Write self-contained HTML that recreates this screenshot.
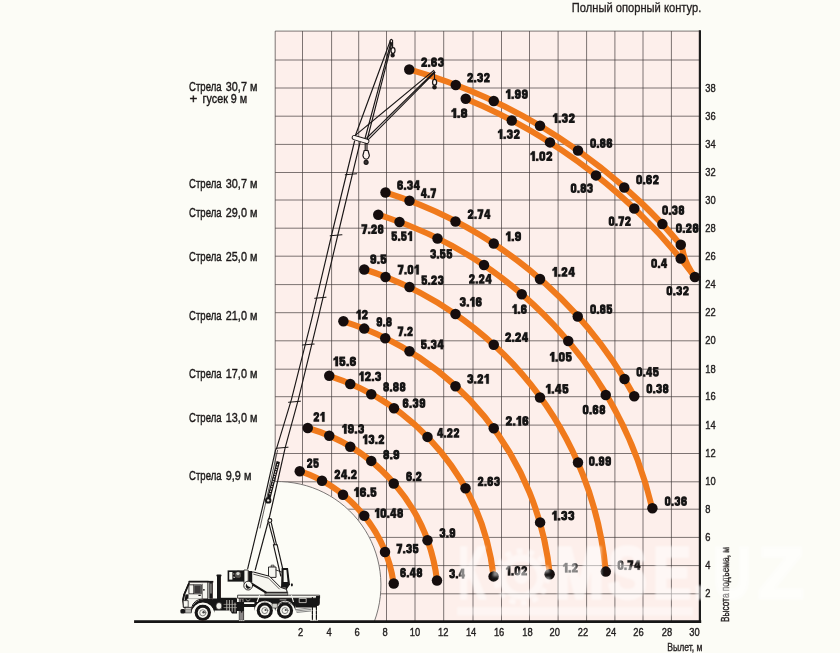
<!DOCTYPE html>
<html lang="ru"><head><meta charset="utf-8"><title>Грузовысотные характеристики</title>
<style>html,body{margin:0;padding:0;background:#fcfcf6;}body{width:840px;height:653px;overflow:hidden;font-family:"Liberation Sans",sans-serif;}svg{display:block;}text{font-family:"Liberation Sans",sans-serif;}</style>
</head><body>
<svg width="840" height="653" viewBox="0 0 840 653">
<defs><filter id="soft" x="0" y="0" width="840" height="653" filterUnits="userSpaceOnUse"><feGaussianBlur stdDeviation="0.45"/></filter></defs>
<rect x="0" y="0" width="840" height="653" fill="#fcfcf6"/>
<g filter="url(#soft)">
<rect x="275.2" y="31.1" width="424.7" height="590.5" fill="#fdefeb"/>
<path d="M275.2 31.1 V621.6 M302.5 31.1 V621.6 M331.6 31.1 V621.6 M358.7 31.1 V621.6 M386.5 31.1 V621.6 M415.0 31.1 V621.6 M443.7 31.1 V621.6 M473.0 31.1 V621.6 M501.5 31.1 V621.6 M529.5 31.1 V621.6 M558.1 31.1 V621.6 M586.6 31.1 V621.6 M614.9 31.1 V621.6 M643.0 31.1 V621.6 M671.4 31.1 V621.6 M275.2 31.1 H699.9 M275.2 60.0 H699.9 M275.2 88.0 H699.9 M275.2 116.2 H699.9 M275.2 144.4 H699.9 M275.2 172.5 H699.9 M275.2 200.0 H699.9 M275.2 228.2 H699.9 M275.2 256.2 H699.9 M275.2 284.6 H699.9 M275.2 312.7 H699.9 M275.2 340.8 H699.9 M275.2 369.2 H699.9 M275.2 396.7 H699.9 M275.2 425.1 H699.9 M275.2 453.5 H699.9 M275.2 481.8 H699.9 M275.2 509.2 H699.9 M275.2 537.4 H699.9 M275.2 565.6 H699.9 M275.2 593.8 H699.9" stroke="#3f3838" stroke-width="0.68" fill="none"/>
<path d="M274 481.4 L275.2 481.5 A103.5 103.5 0 0 1 374.5 622 L274 622 Z" fill="#fcfcf6"/>
<path d="M275.2 481.6 A103.5 103.5 0 0 1 374.5 621" stroke="#6b6565" stroke-width="0.9" fill="none"/>
<path d="M699.9 30.3 V622.8" stroke="#1c1a1a" stroke-width="2.2" fill="none"/>
<path d="M134.1 621.55 H701.2" stroke="#141212" stroke-width="2.8" fill="none"/>
<path d="M409.27 69.42 A555.85 555.85 0 0 1 680.75 244.85 C683.98 248.66 680.54 257.78 694.90 277.00" stroke="#f07a1c" stroke-width="6.1" fill="none" stroke-linecap="butt"/>
<path d="M465.74 98.78 A547.48 547.48 0 0 1 694.95 276.97" stroke="#f07a1c" stroke-width="6.1" fill="none" stroke-linecap="butt"/>
<path d="M385.50 192.49 A429.92 429.92 0 0 1 634.30 396.22" stroke="#f07a1c" stroke-width="6.1" fill="none" stroke-linecap="butt"/>
<path d="M378.28 214.66 A406.11 406.11 0 0 1 652.22 508.34" stroke="#f07a1c" stroke-width="6.1" fill="none" stroke-linecap="butt"/>
<path d="M364.33 269.26 A350.99 350.99 0 0 1 605.78 571.60" stroke="#f07a1c" stroke-width="6.1" fill="none" stroke-linecap="butt"/>
<path d="M343.37 321.36 A295.86 295.86 0 0 1 549.79 574.18" stroke="#f07a1c" stroke-width="6.1" fill="none" stroke-linecap="butt"/>
<path d="M329.19 375.93 A239.36 239.36 0 0 1 493.63 576.40" stroke="#f07a1c" stroke-width="6.1" fill="none" stroke-linecap="butt"/>
<path d="M307.75 427.99 A181.57 181.57 0 0 1 437.02 580.50" stroke="#f07a1c" stroke-width="6.1" fill="none" stroke-linecap="butt"/>
<path d="M299.77 471.20 A139.18 139.18 0 0 1 393.64 583.52" stroke="#f07a1c" stroke-width="6.1" fill="none" stroke-linecap="butt"/>
<circle cx="409.25" cy="69.50" r="5.25" fill="#141111"/>
<circle cx="455.75" cy="85.00" r="5.25" fill="#141111"/>
<circle cx="493.75" cy="101.00" r="5.25" fill="#141111"/>
<circle cx="540.00" cy="125.75" r="5.25" fill="#141111"/>
<circle cx="578.00" cy="150.50" r="5.25" fill="#141111"/>
<circle cx="624.25" cy="187.50" r="5.25" fill="#141111"/>
<circle cx="662.40" cy="224.10" r="5.25" fill="#141111"/>
<circle cx="680.80" cy="244.80" r="5.25" fill="#141111"/>
<circle cx="694.90" cy="277.00" r="5.25" fill="#141111"/>
<circle cx="465.75" cy="98.75" r="5.25" fill="#141111"/>
<circle cx="511.75" cy="120.50" r="5.25" fill="#141111"/>
<circle cx="550.00" cy="142.40" r="5.25" fill="#141111"/>
<circle cx="596.00" cy="175.40" r="5.25" fill="#141111"/>
<circle cx="634.30" cy="208.50" r="5.25" fill="#141111"/>
<circle cx="680.70" cy="258.60" r="5.25" fill="#141111"/>
<circle cx="385.50" cy="192.50" r="5.25" fill="#141111"/>
<circle cx="409.50" cy="200.75" r="5.25" fill="#141111"/>
<circle cx="455.50" cy="221.50" r="5.25" fill="#141111"/>
<circle cx="493.75" cy="243.50" r="5.25" fill="#141111"/>
<circle cx="540.00" cy="279.00" r="5.25" fill="#141111"/>
<circle cx="577.75" cy="316.50" r="5.25" fill="#141111"/>
<circle cx="624.50" cy="379.00" r="5.25" fill="#141111"/>
<circle cx="634.25" cy="396.25" r="5.25" fill="#141111"/>
<circle cx="378.25" cy="214.75" r="5.25" fill="#141111"/>
<circle cx="399.50" cy="222.00" r="5.25" fill="#141111"/>
<circle cx="437.50" cy="238.50" r="5.25" fill="#141111"/>
<circle cx="484.00" cy="265.00" r="5.25" fill="#141111"/>
<circle cx="521.75" cy="294.25" r="5.25" fill="#141111"/>
<circle cx="568.25" cy="341.00" r="5.25" fill="#141111"/>
<circle cx="605.75" cy="395.00" r="5.25" fill="#141111"/>
<circle cx="652.40" cy="508.30" r="5.25" fill="#141111"/>
<circle cx="364.25" cy="269.50" r="5.25" fill="#141111"/>
<circle cx="385.50" cy="277.00" r="5.25" fill="#141111"/>
<circle cx="409.50" cy="287.00" r="5.25" fill="#141111"/>
<circle cx="455.50" cy="314.00" r="5.25" fill="#141111"/>
<circle cx="493.75" cy="344.75" r="5.25" fill="#141111"/>
<circle cx="540.00" cy="397.50" r="5.25" fill="#141111"/>
<circle cx="578.00" cy="462.50" r="5.25" fill="#141111"/>
<circle cx="605.80" cy="571.60" r="5.25" fill="#141111"/>
<circle cx="343.40" cy="321.25" r="5.25" fill="#141111"/>
<circle cx="364.25" cy="328.60" r="5.25" fill="#141111"/>
<circle cx="385.25" cy="338.25" r="5.25" fill="#141111"/>
<circle cx="409.50" cy="351.25" r="5.25" fill="#141111"/>
<circle cx="455.50" cy="386.25" r="5.25" fill="#141111"/>
<circle cx="493.75" cy="428.25" r="5.25" fill="#141111"/>
<circle cx="540.10" cy="522.40" r="5.25" fill="#141111"/>
<circle cx="549.60" cy="574.20" r="5.25" fill="#141111"/>
<circle cx="329.25" cy="375.75" r="5.25" fill="#141111"/>
<circle cx="350.25" cy="384.00" r="5.25" fill="#141111"/>
<circle cx="371.25" cy="394.25" r="5.25" fill="#141111"/>
<circle cx="394.00" cy="408.25" r="5.25" fill="#141111"/>
<circle cx="427.50" cy="436.90" r="5.25" fill="#141111"/>
<circle cx="465.50" cy="488.20" r="5.25" fill="#141111"/>
<circle cx="493.60" cy="576.40" r="5.25" fill="#141111"/>
<circle cx="307.75" cy="428.00" r="5.25" fill="#141111"/>
<circle cx="329.25" cy="435.75" r="5.25" fill="#141111"/>
<circle cx="350.25" cy="446.75" r="5.25" fill="#141111"/>
<circle cx="371.25" cy="460.90" r="5.25" fill="#141111"/>
<circle cx="393.75" cy="483.50" r="5.25" fill="#141111"/>
<circle cx="427.50" cy="540.25" r="5.25" fill="#141111"/>
<circle cx="437.00" cy="580.50" r="5.25" fill="#141111"/>
<circle cx="299.75" cy="471.25" r="5.25" fill="#141111"/>
<circle cx="322.00" cy="480.75" r="5.25" fill="#141111"/>
<circle cx="343.00" cy="494.75" r="5.25" fill="#141111"/>
<circle cx="364.25" cy="515.75" r="5.25" fill="#141111"/>
<circle cx="385.00" cy="552.00" r="5.25" fill="#141111"/>
<circle cx="393.75" cy="583.50" r="5.25" fill="#141111"/>
<g id="crane" fill="none" stroke="#1a1717" stroke-width="1.15" stroke-linecap="round" stroke-linejoin="round">
<!-- jib 1 (steep) -->
<path d="M390.2 41 L355.2 136 M390.9 42.3 L365 138.5 M392.1 42.3 L367.2 139.5"/>
<path d="M390.1 40.6 Q391.3 38.2 392.6 40.6 L392.4 43 L390.4 42.6 Z" fill="#fdeeea"/>
<path d="M392.6 42.5 V47.8"/>
<ellipse cx="393" cy="50.5" rx="2" ry="2.8" fill="#fdf4f0" stroke-width="1.25"/>
<circle cx="392.6" cy="55.2" r="1.6" fill="#1a1717"/>
<!-- jib 2 (flat) -->
<path d="M433.8 70.4 L356.2 134.6 M434.4 71.7 L366.8 138 M435 72.4 L368.5 139.4"/>
<path d="M434.5 72 V79.6"/>
<ellipse cx="434.6" cy="82.3" rx="2.05" ry="2.9" fill="#fdf4f0" stroke-width="1.25"/>
<circle cx="434.5" cy="87.3" r="1.7" fill="#1a1717"/>
<!-- boom -->
<path d="M354.6 141 L332.8 230 L311.6 319.7 L291.4 399.7 L276.9 447.4 L275.5 450.2 L264.3 500 L247.7 568.6" />
<path d="M360.1 142.2 L339 230 L317.8 319.7 L298.3 399.7 L285.2 447.6 L273.4 500 L269.7 516 L255.2 570"/>
<path d="M277.6 450.2 L266.3 500 L260 528" stroke-width="0.7"/>
<!-- ticks -->
<path d="M345.3 174.8 L356.6 173.8 M330.2 235.8 L341.9 234.8 M314.8 298.2 L325.9 297.2 M302.4 345 L314.1 344 M288.6 402.2 L300.3 401.2 M276.2 448.2 L287.9 447.2"/>
<!-- head -->
<path d="M354.3 137.6 L366.8 141.3" stroke="#1a1717" stroke-width="5.2"/>
<path d="M354.3 137.6 L366.8 141.3" stroke="#fdf6f2" stroke-width="3.4"/>
<!-- main hook -->
<path d="M365.2 143.2 V150.5 M367 143.6 V150.5"/>
<path d="M364.2 150.5 H368 L369.4 155.5 Q369 158.5 366.2 159.3 Q363.2 158.5 362.9 155.5 Z" fill="#fdf4f0"/>
<circle cx="366.1" cy="162.3" r="2" fill="#3a3535"/>
<!-- black name band -->
<path d="M278.3 461.5 L268.3 500.2" stroke="#141212" stroke-width="3.4" stroke-linecap="butt"/>
<path d="M277.7 464 L269.6 495" stroke="#efe9e4" stroke-width="1.1" stroke-dasharray="1.4 1.1" stroke-linecap="butt"/>
<circle cx="268.2" cy="500.4" r="2.6" fill="#141212"/>
<circle cx="268.2" cy="500.4" r="1.2" fill="#e9e4df" stroke="none"/>
<!-- luffing cylinder -->
<circle cx="269.9" cy="520.6" r="1.9" fill="#fcfcf6"/>
<path d="M268.9 523.3 L274.6 544.7 M271.3 522.8 L276.5 544.7"/>
<path d="M273.4 544.7 L280.8 576 M277.1 544.7 L283.8 573.5 M273.4 544.7 H277.1"/>
</g>
<g id="truck" stroke-linejoin="round" stroke-linecap="round">
<!-- deck / chassis -->
<rect x="238" y="595.2" width="81.6" height="3" fill="#f6f6f0" stroke="#161313" stroke-width="0.8"/>
<rect x="244" y="598.2" width="75" height="4" fill="#161313"/>
<rect x="244" y="604" width="11" height="3" fill="#161313"/>
<rect x="295" y="602" width="22" height="5.5" fill="#161313"/>
<path d="M316 596 H319.8 V603 Q319.8 606 317 606 Z" fill="#161313"/>
<rect x="299.6" y="598.4" width="6.6" height="4.2" fill="none" stroke="#f4f4ee" stroke-width="0.7"/>
<path d="M259.4 595.6 L256.2 604.5 M291.6 595.6 L295.2 607.6" stroke="#f6f6f0" stroke-width="1.1" fill="none"/>
<path d="M246 599.6 l2 1.6 l2 -1.6 M280 599.8 h6" stroke="#f4f4ee" stroke-width="0.6" fill="none"/>
<!-- grey steps at rear -->
<path d="M296 609.6 L310.6 607.8 M296.4 611 L310.8 609.4 M297 612.4 L310.8 611" stroke="#777" stroke-width="0.9" fill="none"/>
<!-- rear outrigger -->
<path d="M312.4 597.6 V620 M316.4 597.6 V620" stroke="#161313" stroke-width="1.2" stroke-dasharray="3.2 1.2" fill="none"/>
<path d="M310.6 620.4 H318.4" stroke="#f2f2ec" stroke-width="0.8" stroke-dasharray="1 1"/>
<!-- front outrigger -->
<rect x="239.7" y="598.4" width="3.9" height="22" fill="#8a8686" stroke="#161313" stroke-width="0.7"/>
<path d="M241.6 600 V612" stroke="#161313" stroke-width="1.6"/>
<path d="M239.4 620.6 H244" stroke="#f2f2ec" stroke-width="0.8" stroke-dasharray="1 1"/>
<!-- engine block / mid chassis behind cab -->
<path d="M212.5 598.6 H237 V613.4 H232 L230 610.5 H214 L212 606 Z" fill="#161313"/>
<rect x="217.4" y="597.8" width="19.2" height="2.1" fill="#161313"/>
<ellipse cx="219" cy="606" rx="3.1" ry="3.5" fill="#f2f2ec" stroke="#161313" stroke-width="0.7"/>
<path d="M226.8 600.4 V610 M229.4 600.4 V611 M232.2 600.4 V611.4 M235 603 V612" stroke="#dcdcd6" stroke-width="0.8" fill="none"/>
<path d="M224 607.6 H238 M224 604.4 H236" stroke="#bdbdb7" stroke-width="0.6" fill="none"/>
<rect x="237" y="602" width="7" height="9" fill="#161313"/>
<!-- rear wheels -->
<path d="M254.4 611 A10.4 10.4 0 0 1 275.2 611 A10.2 10.2 0 0 1 295.4 611 L295.4 602 H254.4 Z" fill="#161313"/>
<g>
<circle cx="264.8" cy="610.6" r="8.1" fill="#161313"/>
<circle cx="264.8" cy="610.6" r="5" fill="#f6f6f0"/>
<circle cx="264.8" cy="610.6" r="3" fill="none" stroke="#555" stroke-width="0.7"/>
<circle cx="265.6" cy="610" r="1.1" fill="#444"/>
<circle cx="285" cy="610.6" r="8.1" fill="#161313"/>
<circle cx="285" cy="610.6" r="5" fill="#f6f6f0"/>
<circle cx="285" cy="610.6" r="3" fill="none" stroke="#555" stroke-width="0.7"/>
<circle cx="285.8" cy="610" r="1.1" fill="#444"/>
</g>
<path d="M256.6 606.4 A9.2 9.2 0 0 1 273.2 606.6 M276.8 606.4 A9.2 9.2 0 0 1 293.4 606.6" stroke="#f2f2ec" stroke-width="0.9" fill="none"/>
<rect x="272.4" y="603.4" width="5" height="4.6" fill="#cfcfc9" stroke="#161313" stroke-width="0.5"/>
<!-- cab -->
<path d="M189.8 581.6 H207.9 V599 H202.4 Q194 599.4 191.6 607.6 H183.8 L182.6 600.4 L183.6 595.4 Z" fill="#f6f6f0" stroke="#161313" stroke-width="1"/>
<path d="M189.2 581.7 H208.4" stroke="#161313" stroke-width="1.7" fill="none"/>
<path d="M188.9 583.6 L184.2 594.6 L183.2 599.8" stroke="#161313" stroke-width="1.8" fill="none"/>
<path d="M185.4 594.4 L188.6 594.2 L188.4 598.4 L184.6 601.4 Z" fill="#161313"/>
<rect x="189.3" y="584.8" width="12" height="9" fill="#f6f6f0" stroke="#161313" stroke-width="0.8"/>
<rect x="194.2" y="585.3" width="6.6" height="8" fill="#3a3838"/>
<path d="M193.6 585 V593.6" stroke="#161313" stroke-width="0.7"/>
<path d="M202.2 584.2 V598.6" stroke="#161313" stroke-width="0.7"/>
<circle cx="203.9" cy="589.8" r="0.9" fill="#161313"/>
<rect x="198.4" y="594.8" width="2.4" height="1.2" fill="#161313"/>
<path d="M187.8 598.6 H202" stroke="#8c8c88" stroke-width="0.6"/>
<!-- pillar behind cab -->
<rect x="209.3" y="581.8" width="3.5" height="17" fill="#161313"/>
<rect x="208.8" y="580.9" width="4.5" height="1.6" fill="#161313"/>
<rect x="210.3" y="583.5" width="1.3" height="10" fill="#9a9a96"/>
<!-- exhaust -->
<rect x="217" y="575.4" width="3.9" height="23.6" fill="#161313"/>
<rect x="216.4" y="574.5" width="5.1" height="2" rx="0.9" fill="#161313"/>
<!-- front lower / bumper / steps -->
<rect x="183.6" y="600.6" width="4.6" height="6.6" fill="#f6f6f0" stroke="#161313" stroke-width="0.7"/>
<rect x="180.4" y="609" width="4.8" height="4.6" rx="1.6" fill="#161313"/>
<rect x="185.4" y="607.4" width="6" height="5.4" fill="#f6f6f0" stroke="#161313" stroke-width="0.7"/>
<path d="M185.6 609.2 H191.2 M185.6 611 H191.2" stroke="#161313" stroke-width="0.6"/>
<!-- front fender + wheel -->
<path d="M191.4 612.6 A11.6 11.6 0 0 1 214.4 612.8 L214.6 606 L212.6 599 H204 Q194 600 191.4 609 Z" fill="#161313"/>
<circle cx="202.8" cy="612.6" r="8.2" fill="#161313"/>
<path d="M193.6 612 A9.3 9.3 0 0 1 212 612" stroke="#f2f2ec" stroke-width="0.9" fill="none"/>
<circle cx="202.8" cy="612.8" r="5.1" fill="#f6f6f0"/>
<circle cx="202.8" cy="612.8" r="3.1" fill="none" stroke="#555" stroke-width="0.7"/>
<circle cx="203.6" cy="612.2" r="1.2" fill="#444"/>
<!-- turntable -->
<rect x="265.3" y="592" width="22.4" height="3.4" fill="#8e8e8a" stroke="#161313" stroke-width="0.6"/>
<!-- operator cabin -->
<rect x="271.6" y="565.2" width="2.4" height="2" fill="#f6f6f0" stroke="#161313" stroke-width="0.7"/>
<rect x="268.9" y="567" width="7.1" height="10.4" fill="#f6f6f0" stroke="#161313" stroke-width="0.9"/>
<path d="M281.6 568 H288 L290 584.6 L286.6 589.6 H281 Z" fill="#161313"/>
<path d="M283.6 570 H286.4 L287.6 582 H283.6 Z" fill="#f6f6f0"/>
<rect x="281.2" y="587.2" width="4.8" height="4.2" fill="#f6f6f0" stroke="#161313" stroke-width="0.8"/>
<ellipse cx="291.9" cy="584.8" rx="1" ry="1.6" fill="#161313"/>
<path d="M276 570 L281.6 572" stroke="#161313" stroke-width="0.8"/>
<!-- boom foot frame -->
<path d="M252.1 572 L253.4 572 L269.4 576.2 L280.5 587.3 L286.6 589.4 L287.1 592.3 H265.8 L252.1 583.8 Z" fill="#f6f6f0" stroke="#161313" stroke-width="1"/>
<path d="M253.6 574.2 L268.6 578.2 L279.4 589" stroke="#161313" stroke-width="0.7" fill="none"/>
<path d="M252.1 584 L265.8 592.4" stroke="#161313" stroke-width="2.1" fill="none"/>
<!-- boom head resting at front -->
<rect x="227.6" y="570.4" width="16.4" height="11.2" fill="#161313"/>
<rect x="229.2" y="572" width="3.2" height="7.6" fill="#f6f6f0"/>
<rect x="233.4" y="573.4" width="2.4" height="1.2" fill="#f6f6f0"/>
<rect x="233.4" y="576.6" width="2.4" height="1.2" fill="#f6f6f0"/>
<circle cx="238" cy="574.8" r="3.7" fill="#55524f" stroke="#161313" stroke-width="0.9"/>
<circle cx="238" cy="573.6" r="1.7" fill="#d8d8d2"/>
<rect x="244.4" y="570" width="3.8" height="13.4" fill="#f6f6f0" stroke="#161313" stroke-width="0.8"/>
<rect x="248.4" y="571" width="3.6" height="13" fill="#161313"/>
<!-- hook block -->
<circle cx="248.2" cy="585.6" r="4.4" fill="#f6f6f0" stroke="#161313" stroke-width="0.9"/>
<path d="M246.6 583.6 Q247.4 587.6 251 586.8 Q249.6 589.6 246.8 588.4 Q244.8 586.6 246.6 583.6 Z" fill="#161313"/>
</g>

<defs>
<path id="g0" d="M1.2 3 Q1.2 1.2 3 1.2 Q4.8 1.2 4.8 3 V6.6 Q4.8 8.4 3 8.4 Q1.2 8.4 1.2 6.6 Z" fill="none" stroke="#161313" stroke-width="2.40" stroke-linejoin="round"/>
<path id="g1" d="M2.1 0 H4.6 V9.6 H2.1 V3.3 L0.3 3.9 V2 Q1.8 1.5 2.1 0 Z" fill="#161313" fill-rule="evenodd" stroke="#161313" stroke-width="0.25" stroke-linejoin="round"/>
<g id="g2"><path d="M1.2 3.6 V3 Q1.2 1.2 3 1.2 Q4.8 1.2 4.8 3 Q4.8 4.2 3.8 5.1 L2.1 7.4" fill="none" stroke="#161313" stroke-width="2.40" stroke-linejoin="round"/><path d="M0.1 9.6 V7.6 L1.2 6.2 L3.2 7.3 H5.9 V9.6 Z" fill="#161313"/></g>
<path id="g3" d="M1.2 3.3 V2.9 Q1.2 1.2 3 1.2 Q4.8 1.2 4.8 2.9 V3.2 Q4.8 4.7 3.3 4.7 H2.5 M3.3 4.7 Q4.8 4.7 4.8 6.2 V6.7 Q4.8 8.4 3 8.4 Q1.2 8.4 1.2 6.7 V6.2" fill="none" stroke="#161313" stroke-width="2.40" stroke-linejoin="round"/>
<path id="g4" d="M3.2 0 H5.5 V5.6 H6.2 V7.6 H5.5 V9.6 H3.2 V7.6 H0 V5.8 L2.7 0 Z M3.2 3 L2 5.6 H3.2 Z" fill="#161313" fill-rule="evenodd" stroke="#161313" stroke-width="0.25" stroke-linejoin="round"/>
<g id="g5"><path d="M1.3 1.5 V4.9 Q1.9 3.9 3.1 3.9 Q4.8 3.9 4.8 5.6 V6.6 Q4.8 8.4 3 8.4 Q1.2 8.4 1.2 6.7 V6.3" fill="none" stroke="#161313" stroke-width="2.40" stroke-linejoin="round"/><path d="M0.1 0 H5.6 V2.3 H0.1 Z" fill="#161313"/></g>
<path id="g6" d="M4.8 3.4 V3 Q4.8 1.2 3 1.2 Q1.2 1.2 1.2 3 V6.6 Q1.2 8.4 3 8.4 Q4.8 8.4 4.8 6.6 V6.2 Q4.8 4.5 3 4.5 Q1.9 4.5 1.3 5.3" fill="none" stroke="#161313" stroke-width="2.40" stroke-linejoin="round"/>
<path id="g7" d="M0.1 0 H5.9 V2 L3.6 9.6 H1 L3.2 2.3 H0.1 Z" fill="#161313" fill-rule="evenodd" stroke="#161313" stroke-width="0.25" stroke-linejoin="round"/>
<path id="g8" d="M3 1.2 Q4.7 1.2 4.7 2.8 V3.1 Q4.7 4.65 3 4.65 Q1.3 4.65 1.3 3.1 V2.8 Q1.3 1.2 3 1.2 Z M3 4.65 Q4.8 4.65 4.8 6.3 V6.7 Q4.8 8.4 3 8.4 Q1.2 8.4 1.2 6.7 V6.3 Q1.2 4.65 3 4.65 Z" fill="none" stroke="#161313" stroke-width="2.40" stroke-linejoin="round"/>
<use id="g9" href="#g6" transform="rotate(180 3 4.8)"/>
<path id="gdot" d="M0 7.3 H2.3 V9.6 H0 Z" fill="#161313" fill-rule="evenodd" stroke="#161313" stroke-width="0.25" stroke-linejoin="round"/>
</defs>
<g id="vals">
<g transform="translate(421.15 57.30) scale(1.000 1.000)"><use href="#g2" x="0.00"/><use href="#gdot" x="6.80"/><use href="#g6" x="9.90"/><use href="#g3" x="16.70"/></g>
<g transform="translate(467.15 72.80) scale(1.000 1.000)"><use href="#g2" x="0.00"/><use href="#gdot" x="6.80"/><use href="#g3" x="9.90"/><use href="#g2" x="16.70"/></g>
<g transform="translate(505.65 89.30) scale(1.028 1.000)"><use href="#g1" x="0.00"/><use href="#gdot" x="5.70"/><use href="#g9" x="8.80"/><use href="#g9" x="15.60"/></g>
<g transform="translate(552.65 113.30) scale(1.028 1.000)"><use href="#g1" x="0.00"/><use href="#gdot" x="5.70"/><use href="#g3" x="8.80"/><use href="#g2" x="15.60"/></g>
<g transform="translate(590.15 138.30) scale(0.978 1.000)"><use href="#g0" x="0.00"/><use href="#gdot" x="6.80"/><use href="#g8" x="9.90"/><use href="#g6" x="16.70"/></g>
<g transform="translate(636.15 174.80) scale(1.000 1.000)"><use href="#g0" x="0.00"/><use href="#gdot" x="6.80"/><use href="#g6" x="9.90"/><use href="#g2" x="16.70"/></g>
<g transform="translate(662.15 205.30) scale(0.978 1.000)"><use href="#g0" x="0.00"/><use href="#gdot" x="6.80"/><use href="#g3" x="9.90"/><use href="#g8" x="16.70"/></g>
<g transform="translate(675.90 223.30) scale(1.000 1.000)"><use href="#g0" x="0.00"/><use href="#gdot" x="6.80"/><use href="#g2" x="9.90"/><use href="#g8" x="16.70"/></g>
<g transform="translate(451.15 108.30) scale(1.095 1.000)"><use href="#g1" x="0.00"/><use href="#gdot" x="5.70"/><use href="#g8" x="8.80"/></g>
<g transform="translate(497.65 129.30) scale(1.028 1.000)"><use href="#g1" x="0.00"/><use href="#gdot" x="5.70"/><use href="#g3" x="8.80"/><use href="#g2" x="15.60"/></g>
<g transform="translate(530.15 151.30) scale(1.028 1.000)"><use href="#g1" x="0.00"/><use href="#gdot" x="5.70"/><use href="#g0" x="8.80"/><use href="#g2" x="15.60"/></g>
<g transform="translate(570.65 183.30) scale(0.978 1.000)"><use href="#g0" x="0.00"/><use href="#gdot" x="6.80"/><use href="#g8" x="9.90"/><use href="#g3" x="16.70"/></g>
<g transform="translate(608.65 216.30) scale(0.978 1.000)"><use href="#g0" x="0.00"/><use href="#gdot" x="6.80"/><use href="#g7" x="9.90"/><use href="#g2" x="16.70"/></g>
<g transform="translate(651.15 258.50) scale(0.988 1.000)"><use href="#g0" x="0.00"/><use href="#gdot" x="6.80"/><use href="#g4" x="9.90"/></g>
<g transform="translate(666.45 285.90) scale(0.987 1.000)"><use href="#g0" x="0.00"/><use href="#gdot" x="6.80"/><use href="#g3" x="9.90"/><use href="#g2" x="16.70"/></g>
<g transform="translate(397.15 180.30) scale(0.991 1.000)"><use href="#g6" x="0.00"/><use href="#gdot" x="6.80"/><use href="#g3" x="9.90"/><use href="#g4" x="16.70"/></g>
<g transform="translate(420.90 188.30) scale(0.944 1.000)"><use href="#g4" x="0.00"/><use href="#gdot" x="7.00"/><use href="#g7" x="10.10"/></g>
<g transform="translate(467.65 209.30) scale(0.991 1.000)"><use href="#g2" x="0.00"/><use href="#gdot" x="6.80"/><use href="#g7" x="9.90"/><use href="#g4" x="16.70"/></g>
<g transform="translate(505.65 231.55) scale(1.044 1.000)"><use href="#g1" x="0.00"/><use href="#gdot" x="5.70"/><use href="#g9" x="8.80"/></g>
<g transform="translate(552.15 267.05) scale(1.041 1.000)"><use href="#g1" x="0.00"/><use href="#gdot" x="5.70"/><use href="#g2" x="8.80"/><use href="#g4" x="15.60"/></g>
<g transform="translate(590.15 304.30) scale(0.978 1.000)"><use href="#g0" x="0.00"/><use href="#gdot" x="6.80"/><use href="#g8" x="9.90"/><use href="#g5" x="16.70"/></g>
<g transform="translate(636.40 367.05) scale(0.980 1.000)"><use href="#g0" x="0.00"/><use href="#gdot" x="6.80"/><use href="#g4" x="9.90"/><use href="#g5" x="16.90"/></g>
<g transform="translate(646.40 383.80) scale(0.978 1.000)"><use href="#g0" x="0.00"/><use href="#gdot" x="6.80"/><use href="#g3" x="9.90"/><use href="#g8" x="16.70"/></g>
<g transform="translate(361.40 224.30) scale(0.978 1.000)"><use href="#g7" x="0.00"/><use href="#gdot" x="6.80"/><use href="#g2" x="9.90"/><use href="#g8" x="16.70"/></g>
<g transform="translate(391.40 231.30) scale(0.970 1.000)"><use href="#g5" x="0.00"/><use href="#gdot" x="6.80"/><use href="#g5" x="9.90"/><use href="#g1" x="16.70"/></g>
<g transform="translate(430.15 249.05) scale(0.978 1.000)"><use href="#g3" x="0.00"/><use href="#gdot" x="6.80"/><use href="#g5" x="9.90"/><use href="#g5" x="16.70"/></g>
<g transform="translate(468.90 274.05) scale(0.991 1.000)"><use href="#g2" x="0.00"/><use href="#gdot" x="6.80"/><use href="#g2" x="9.90"/><use href="#g4" x="16.70"/></g>
<g transform="translate(512.15 304.30) scale(0.993 1.000)"><use href="#g1" x="0.00"/><use href="#gdot" x="5.70"/><use href="#g6" x="8.80"/></g>
<g transform="translate(549.65 352.05) scale(1.028 1.000)"><use href="#g1" x="0.00"/><use href="#gdot" x="5.70"/><use href="#g0" x="8.80"/><use href="#g5" x="15.60"/></g>
<g transform="translate(582.65 404.80) scale(1.000 1.000)"><use href="#g0" x="0.00"/><use href="#gdot" x="6.80"/><use href="#g6" x="9.90"/><use href="#g8" x="16.70"/></g>
<g transform="translate(664.75 496.30) scale(0.978 1.000)"><use href="#g0" x="0.00"/><use href="#gdot" x="6.80"/><use href="#g3" x="9.90"/><use href="#g6" x="16.70"/></g>
<g transform="translate(370.15 254.30) scale(1.035 1.000)"><use href="#g9" x="0.00"/><use href="#gdot" x="6.80"/><use href="#g5" x="9.90"/></g>
<g transform="translate(397.65 264.80) scale(0.993 1.000)"><use href="#g7" x="0.00"/><use href="#gdot" x="6.80"/><use href="#g0" x="9.90"/><use href="#g1" x="16.70"/></g>
<g transform="translate(421.40 275.30) scale(0.978 1.000)"><use href="#g5" x="0.00"/><use href="#gdot" x="6.80"/><use href="#g2" x="9.90"/><use href="#g3" x="16.70"/></g>
<g transform="translate(459.65 297.05) scale(1.028 1.000)"><use href="#g3" x="0.00"/><use href="#gdot" x="6.80"/><use href="#g1" x="9.90"/><use href="#g6" x="15.60"/></g>
<g transform="translate(505.15 332.30) scale(1.002 1.000)"><use href="#g2" x="0.00"/><use href="#gdot" x="6.80"/><use href="#g2" x="9.90"/><use href="#g4" x="16.70"/></g>
<g transform="translate(545.65 384.05) scale(1.053 1.000)"><use href="#g1" x="0.00"/><use href="#gdot" x="5.70"/><use href="#g4" x="8.80"/><use href="#g5" x="15.80"/></g>
<g transform="translate(588.90 456.30) scale(0.978 1.000)"><use href="#g0" x="0.00"/><use href="#gdot" x="6.80"/><use href="#g9" x="9.90"/><use href="#g9" x="16.70"/></g>
<g transform="translate(617.55 560.30) scale(0.996 1.000)"><use href="#g0" x="0.00"/><use href="#gdot" x="6.80"/><use href="#g7" x="9.90"/><use href="#g4" x="16.70"/></g>
<g transform="translate(356.15 309.80) scale(1.000 1.000)"><use href="#g1" x="0.00"/><use href="#g2" x="5.70"/></g>
<g transform="translate(376.40 317.05) scale(0.972 1.000)"><use href="#g9" x="0.00"/><use href="#gdot" x="6.80"/><use href="#g8" x="9.90"/></g>
<g transform="translate(397.65 326.55) scale(0.956 1.000)"><use href="#g7" x="0.00"/><use href="#gdot" x="6.80"/><use href="#g2" x="9.90"/></g>
<g transform="translate(420.90 339.55) scale(0.991 1.000)"><use href="#g5" x="0.00"/><use href="#gdot" x="6.80"/><use href="#g3" x="9.90"/><use href="#g4" x="16.70"/></g>
<g transform="translate(467.15 374.05) scale(1.016 1.000)"><use href="#g3" x="0.00"/><use href="#gdot" x="6.80"/><use href="#g2" x="9.90"/><use href="#g1" x="16.70"/></g>
<g transform="translate(505.65 416.05) scale(1.063 1.000)"><use href="#g2" x="0.00"/><use href="#gdot" x="6.80"/><use href="#g1" x="9.90"/><use href="#g6" x="15.60"/></g>
<g transform="translate(551.90 510.80) scale(1.039 1.000)"><use href="#g1" x="0.00"/><use href="#gdot" x="5.70"/><use href="#g3" x="8.80"/><use href="#g3" x="15.60"/></g>
<g transform="translate(562.90 562.90) scale(1.003 1.000)"><use href="#g1" x="0.00"/><use href="#gdot" x="5.70"/><use href="#g2" x="8.80"/></g>
<g transform="translate(333.15 356.55) scale(1.063 1.000)"><use href="#g1" x="0.00"/><use href="#g5" x="5.70"/><use href="#gdot" x="12.50"/><use href="#g6" x="15.60"/></g>
<g transform="translate(358.90 371.55) scale(1.028 1.000)"><use href="#g1" x="0.00"/><use href="#g2" x="5.70"/><use href="#gdot" x="12.50"/><use href="#g3" x="15.60"/></g>
<g transform="translate(383.15 382.05) scale(0.989 1.000)"><use href="#g8" x="0.00"/><use href="#gdot" x="6.80"/><use href="#g8" x="9.90"/><use href="#g8" x="16.70"/></g>
<g transform="translate(402.65 398.30) scale(1.000 1.000)"><use href="#g6" x="0.00"/><use href="#gdot" x="6.80"/><use href="#g3" x="9.90"/><use href="#g9" x="16.70"/></g>
<g transform="translate(437.15 428.05) scale(0.969 1.000)"><use href="#g4" x="0.00"/><use href="#gdot" x="7.00"/><use href="#g2" x="10.10"/><use href="#g2" x="16.90"/></g>
<g transform="translate(477.65 476.55) scale(0.978 1.000)"><use href="#g2" x="0.00"/><use href="#gdot" x="6.80"/><use href="#g6" x="9.90"/><use href="#g3" x="16.70"/></g>
<g transform="translate(505.75 565.90) scale(0.991 1.000)"><use href="#g1" x="0.00"/><use href="#gdot" x="5.70"/><use href="#g0" x="8.80"/><use href="#g2" x="15.60"/></g>
<g transform="translate(313.40 412.05) scale(0.979 1.000)"><use href="#g2" x="0.00"/><use href="#g1" x="6.80"/></g>
<g transform="translate(341.90 424.05) scale(1.028 1.000)"><use href="#g1" x="0.00"/><use href="#g9" x="5.70"/><use href="#gdot" x="12.50"/><use href="#g3" x="15.60"/></g>
<g transform="translate(362.65 434.55) scale(1.005 1.000)"><use href="#g1" x="0.00"/><use href="#g3" x="5.70"/><use href="#gdot" x="12.50"/><use href="#g2" x="15.60"/></g>
<g transform="translate(383.15 449.80) scale(1.019 1.000)"><use href="#g8" x="0.00"/><use href="#gdot" x="6.80"/><use href="#g9" x="9.90"/></g>
<g transform="translate(406.15 471.55) scale(0.972 1.000)"><use href="#g6" x="0.00"/><use href="#gdot" x="6.80"/><use href="#g2" x="9.90"/></g>
<g transform="translate(439.40 528.05) scale(1.003 1.000)"><use href="#g3" x="0.00"/><use href="#gdot" x="6.80"/><use href="#g9" x="9.90"/></g>
<g transform="translate(449.15 568.80) scale(0.975 1.000)"><use href="#g3" x="0.00"/><use href="#gdot" x="6.80"/><use href="#g4" x="9.90"/></g>
<g transform="translate(306.90 458.30) scale(0.934 1.000)"><use href="#g2" x="0.00"/><use href="#g5" x="6.80"/></g>
<g transform="translate(334.40 469.55) scale(0.980 1.000)"><use href="#g2" x="0.00"/><use href="#g4" x="6.80"/><use href="#gdot" x="13.80"/><use href="#g2" x="16.90"/></g>
<g transform="translate(353.90 487.30) scale(1.051 1.000)"><use href="#g1" x="0.00"/><use href="#g6" x="5.70"/><use href="#gdot" x="12.50"/><use href="#g5" x="15.60"/></g>
<g transform="translate(374.65 508.30) scale(0.995 1.000)"><use href="#g1" x="0.00"/><use href="#g0" x="5.70"/><use href="#gdot" x="12.50"/><use href="#g4" x="15.60"/><use href="#g8" x="22.60"/></g>
<g transform="translate(396.40 543.80) scale(0.978 1.000)"><use href="#g7" x="0.00"/><use href="#gdot" x="6.80"/><use href="#g3" x="9.90"/><use href="#g5" x="16.70"/></g>
<g transform="translate(400.15 567.80) scale(0.969 1.000)"><use href="#g6" x="0.00"/><use href="#gdot" x="6.80"/><use href="#g4" x="9.90"/><use href="#g8" x="16.90"/></g>
</g>
<g font-size="11.6" fill="#211e1e" stroke="#211e1e" stroke-width="0.4">
<text x="298.00" y="636" textLength="5.20" lengthAdjust="spacingAndGlyphs">2</text>
<text x="326.40" y="636" textLength="5.20" lengthAdjust="spacingAndGlyphs">4</text>
<text x="354.40" y="636" textLength="5.20" lengthAdjust="spacingAndGlyphs">6</text>
<text x="382.40" y="636" textLength="5.20" lengthAdjust="spacingAndGlyphs">8</text>
<text x="409.80" y="636" textLength="10.40" lengthAdjust="spacingAndGlyphs">10</text>
<text x="438.00" y="636" textLength="10.40" lengthAdjust="spacingAndGlyphs">12</text>
<text x="465.90" y="636" textLength="10.40" lengthAdjust="spacingAndGlyphs">14</text>
<text x="493.90" y="636" textLength="10.40" lengthAdjust="spacingAndGlyphs">16</text>
<text x="522.20" y="636" textLength="10.40" lengthAdjust="spacingAndGlyphs">18</text>
<text x="549.50" y="636" textLength="10.40" lengthAdjust="spacingAndGlyphs">20</text>
<text x="577.80" y="636" textLength="10.40" lengthAdjust="spacingAndGlyphs">22</text>
<text x="605.80" y="636" textLength="10.40" lengthAdjust="spacingAndGlyphs">24</text>
<text x="633.30" y="636" textLength="10.40" lengthAdjust="spacingAndGlyphs">26</text>
<text x="661.70" y="636" textLength="10.40" lengthAdjust="spacingAndGlyphs">28</text>
<text x="689.20" y="636" textLength="10.40" lengthAdjust="spacingAndGlyphs">30</text>
<text x="705.2" y="597.40" textLength="5.20" lengthAdjust="spacingAndGlyphs">2</text>
<text x="705.2" y="569.20" textLength="5.20" lengthAdjust="spacingAndGlyphs">4</text>
<text x="705.2" y="541.00" textLength="5.20" lengthAdjust="spacingAndGlyphs">6</text>
<text x="705.2" y="512.80" textLength="5.20" lengthAdjust="spacingAndGlyphs">8</text>
<text x="705.2" y="485.40" textLength="10.40" lengthAdjust="spacingAndGlyphs">10</text>
<text x="705.2" y="457.10" textLength="10.40" lengthAdjust="spacingAndGlyphs">12</text>
<text x="705.2" y="428.70" textLength="10.40" lengthAdjust="spacingAndGlyphs">14</text>
<text x="705.2" y="400.30" textLength="10.40" lengthAdjust="spacingAndGlyphs">16</text>
<text x="705.2" y="372.80" textLength="10.40" lengthAdjust="spacingAndGlyphs">18</text>
<text x="705.2" y="344.40" textLength="10.40" lengthAdjust="spacingAndGlyphs">20</text>
<text x="705.2" y="316.30" textLength="10.40" lengthAdjust="spacingAndGlyphs">22</text>
<text x="705.2" y="288.20" textLength="10.40" lengthAdjust="spacingAndGlyphs">24</text>
<text x="705.2" y="259.80" textLength="10.40" lengthAdjust="spacingAndGlyphs">26</text>
<text x="705.2" y="231.80" textLength="10.40" lengthAdjust="spacingAndGlyphs">28</text>
<text x="705.2" y="203.60" textLength="10.40" lengthAdjust="spacingAndGlyphs">30</text>
<text x="705.2" y="176.10" textLength="10.40" lengthAdjust="spacingAndGlyphs">32</text>
<text x="705.2" y="148.00" textLength="10.40" lengthAdjust="spacingAndGlyphs">34</text>
<text x="705.2" y="119.80" textLength="10.40" lengthAdjust="spacingAndGlyphs">36</text>
<text x="705.2" y="91.60" textLength="10.40" lengthAdjust="spacingAndGlyphs">38</text>
</g>
<text x="667.2" y="651.4" font-size="11.2" fill="#2a2626" stroke="#2a2626" stroke-width="0.4" textLength="35.2" lengthAdjust="spacingAndGlyphs">Вылет, м</text>
<text transform="translate(729.3 622) rotate(-90)" font-size="11" fill="#2a2626" stroke="#2a2626" stroke-width="0.45" textLength="75" lengthAdjust="spacingAndGlyphs">Высота подъема, м</text>
<g font-size="13.4" fill="#1c1919" stroke="#1c1919" stroke-width="0.42">
<text x="189.6" y="103.3">+</text><text x="202.6" y="103.3" textLength="44.6" lengthAdjust="spacingAndGlyphs">гусек 9 м</text>
<text x="189" y="91.40" textLength="32.6" lengthAdjust="spacingAndGlyphs">Стрела</text><text x="225.8" y="91.40" textLength="31.60" lengthAdjust="spacingAndGlyphs">30,7 м</text>
<text x="189" y="187.60" textLength="32.6" lengthAdjust="spacingAndGlyphs">Стрела</text><text x="225.8" y="187.60" textLength="31.60" lengthAdjust="spacingAndGlyphs">30,7 м</text>
<text x="189" y="217.00" textLength="32.6" lengthAdjust="spacingAndGlyphs">Стрела</text><text x="225.8" y="217.00" textLength="31.60" lengthAdjust="spacingAndGlyphs">29,0 м</text>
<text x="189" y="261.00" textLength="32.6" lengthAdjust="spacingAndGlyphs">Стрела</text><text x="225.8" y="261.00" textLength="31.60" lengthAdjust="spacingAndGlyphs">25,0 м</text>
<text x="189" y="319.70" textLength="32.6" lengthAdjust="spacingAndGlyphs">Стрела</text><text x="225.8" y="319.70" textLength="31.60" lengthAdjust="spacingAndGlyphs">21,0 м</text>
<text x="189" y="378.00" textLength="32.6" lengthAdjust="spacingAndGlyphs">Стрела</text><text x="225.8" y="378.00" textLength="31.60" lengthAdjust="spacingAndGlyphs">17,0 м</text>
<text x="189" y="422.00" textLength="32.6" lengthAdjust="spacingAndGlyphs">Стрела</text><text x="225.8" y="422.00" textLength="31.60" lengthAdjust="spacingAndGlyphs">13,0 м</text>
<text x="189" y="480.00" textLength="32.6" lengthAdjust="spacingAndGlyphs">Стрела</text><text x="225.8" y="480.00" textLength="25.60" lengthAdjust="spacingAndGlyphs">9,9 м</text>
</g>
<text x="571.8" y="12.2" font-size="13.6" fill="#211e1e" stroke="#211e1e" stroke-width="0.35" textLength="129.5" lengthAdjust="spacingAndGlyphs">Полный опорный контур.</text>
<defs><filter id="wmb" x="440" y="530" width="400" height="100" filterUnits="userSpaceOnUse"><feGaussianBlur stdDeviation="0.9"/></filter></defs>
<g id="wm" filter="url(#wmb)">
<g opacity="0.5" fill="#ffffff" stroke="#ffffff" stroke-width="3.6" stroke-linejoin="miter" font-weight="bold" font-size="72.5">
<text x="458.5" y="598.4" textLength="27" lengthAdjust="spacingAndGlyphs">K</text>
<text x="555" y="598.4" textLength="49" lengthAdjust="spacingAndGlyphs">M</text>
<text x="608" y="598.4" textLength="39" lengthAdjust="spacingAndGlyphs">S</text>
<text x="653" y="598.4" textLength="38" lengthAdjust="spacingAndGlyphs">E</text>
<text x="694" y="598.4" textLength="11" lengthAdjust="spacingAndGlyphs">.</text>
<text x="713" y="598.4" textLength="38" lengthAdjust="spacingAndGlyphs">U</text>
<text x="758" y="598.4" textLength="46" lengthAdjust="spacingAndGlyphs">Z</text>
<circle cx="521.5" cy="577" r="19" fill="none" stroke-width="7.5"/>
<circle cx="521.5" cy="577" r="26" fill="none" stroke-width="5.5" stroke-dasharray="6.2 5.47"/>
<circle cx="521.5" cy="577" r="7" stroke="none"/>
</g>
<g opacity="0.4" fill="#ffffff">
<rect x="457" y="607" width="236" height="8.5"/>
</g>
</g>

</g>
</svg></body></html>
